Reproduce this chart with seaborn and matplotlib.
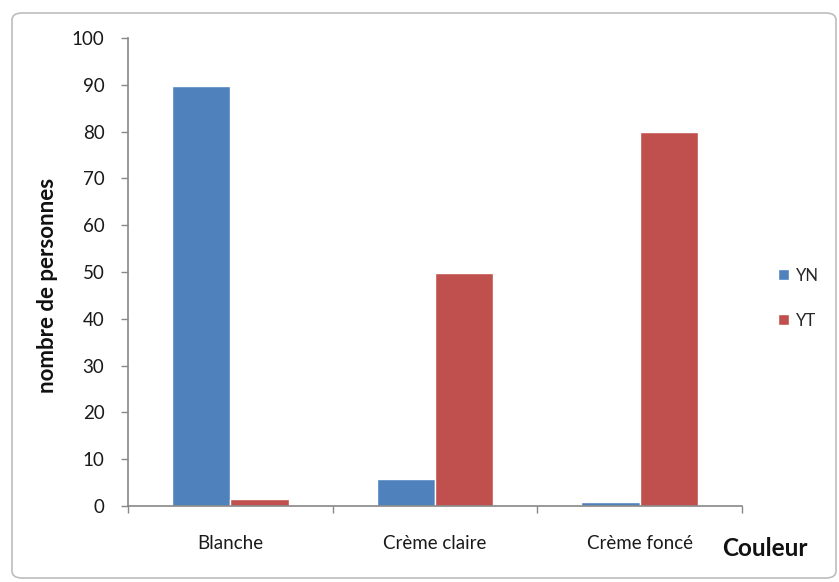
import matplotlib
matplotlib.use("Agg")
import matplotlib.pyplot as plt
import seaborn as sns
import pandas as pd
from matplotlib.patches import FancyBboxPatch
from matplotlib.ticker import FixedLocator, NullFormatter

categories = ["Blanche", "Crème claire", "Crème foncé"]
series_names = ["YN", "YT"]
yn_values = [89.7, 5.8, 0.8]
yt_values = [1.6, 49.7, 79.9]
colors = ["#4F81BD", "#C0504D"]
y_ticks = [0, 10, 20, 30, 40, 50, 60, 70, 80, 90, 100]

df = pd.DataFrame({
    "Couleur": categories * 2,
    "serie": [series_names[0]] * 3 + [series_names[1]] * 3,
    "valeur": yn_values + yt_values,
})

sns.set_theme(style="white")
plt.rcParams["font.family"] = ["Lato", "DejaVu Sans"]

W, H = 839, 582
fig = plt.figure(figsize=(W / 100, H / 100), dpi=100)

# chart border
border = FancyBboxPatch((12 / W, 4 / H), (824 / W), (565 / H),
                        boxstyle="round,pad=0,rounding_size=0.012",
                        transform=fig.transFigure, facecolor="none",
                        edgecolor="#BDBDBD", linewidth=1.2, zorder=-1)
fig.patches.append(border)

ax = fig.add_axes([128 / W, (582 - 506) / H, (742 - 128) / W, (506 - 38) / H])
ax.set_facecolor("none")

sns.barplot(data=df, x="Couleur", y="valeur", hue="serie", order=categories,
            hue_order=series_names, palette=colors, saturation=1,
            width=0.571, ax=ax, errorbar=None)

ax.set_xlim(-0.5, 2.5)
ax.set_ylim(0, 100)
ax.set_yticks(y_ticks)
ax.set_yticklabels([str(v) for v in y_ticks], fontsize=13.5, color="#1a1a1a")

# x ticks at category boundaries, labels at centers
ax.xaxis.set_major_locator(FixedLocator([-0.5, 0.5, 1.5, 2.5]))
ax.xaxis.set_major_formatter(NullFormatter())
ax.xaxis.set_minor_locator(FixedLocator([0, 1, 2]))
ax.set_xticklabels(categories, minor=True, fontsize=13.5, color="#1a1a1a")
ax.tick_params(axis="x", which="minor", length=0, pad=21)
ax.tick_params(axis="x", which="major", length=5, width=1, color="#888888", direction="out", bottom=True)
ax.tick_params(axis="y", which="major", length=5, width=1, color="#888888", direction="out", pad=12, left=True)

for s in ["top", "right"]:
    ax.spines[s].set_visible(False)
for s in ["left", "bottom"]:
    ax.spines[s].set_color("#888888")
    ax.spines[s].set_linewidth(1.2)

ax.set_xlabel("")
ax.set_ylabel("nombre de personnes", fontsize=16, fontweight="bold", color="#111111")
ax.yaxis.set_label_coords(-0.114, (506 - 285) / 468)

fig.text(765 / W, 1 - 548 / H, "Couleur", fontsize=17.5, fontweight="bold",
         ha="center", va="center", color="#111111")

leg = ax.legend(loc="center left", bbox_to_anchor=(1.035, 0.444), frameon=False,
                fontsize=12, handlelength=0.65, handleheight=0.65,
                handletextpad=0.4, labelspacing=1.75)
leg.set_title(None)

fig.savefig("out.png", dpi=100)
